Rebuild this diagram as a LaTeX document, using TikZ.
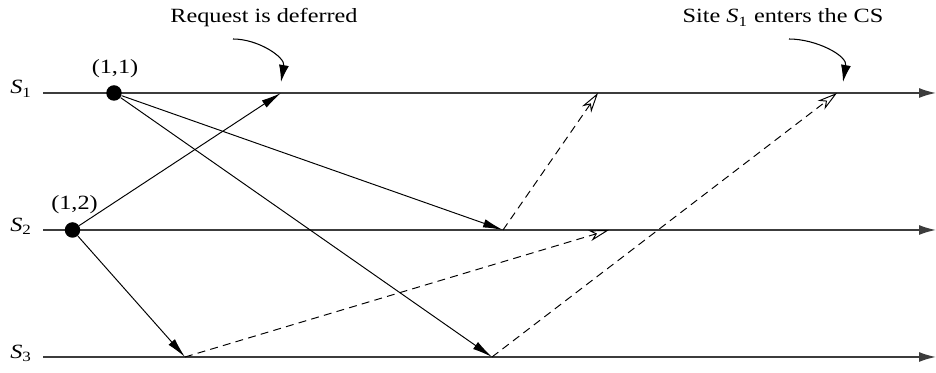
\documentclass[tikz,border=0pt]{standalone}
\usepackage{fontspec}
\setmainfont[FakeStretch=1.2]{Liberation Serif}
\usepackage{xcolor}
\definecolor{linea}{RGB}{60,60,60}
\usepackage{tikz}
\usetikzlibrary{arrows.meta, positioning}

\begin{document}
\begin{tikzpicture}[
  font=\fontsize{11.5}{13}\selectfont,
  site/.style={draw=linea, line width=0.9pt, -{Latex[length=0.34cm,width=0.2cm]}},
  lbl/.style={anchor=base west, inner sep=0pt},
  evt/.style={circle, fill=black, inner sep=0pt, minimum size=0.31cm},
  req/.style={line width=0.55pt, -{Latex[length=0.4cm,width=0.17cm]}},
  rep/.style={line width=0.55pt, dash pattern=on 4.5pt off 3pt, -{Stealth[open,length=0.4cm,width=0.22cm,inset=0.12cm]}},
  note/.style={line width=0.6pt, -{Latex[length=0.34cm,width=0.2cm]}}
]
  \useasboundingbox (0,0) rectangle (18.72,-7.46);

  \node[lbl] (s1) at (0.20,-1.88) {\textit{S}\textsubscript{1}};
  \node[lbl] (s2) at (0.20,-4.63) {\textit{S}\textsubscript{2}};
  \node[lbl] (s3) at (0.20,-7.17) {\textit{S}\textsubscript{3}};
  \coordinate (s1a) at (0.86,-1.86);
  \coordinate (s1b) at (18.72,-1.86);
  \coordinate (s2a) at (0.86,-4.60);
  \coordinate (s2b) at (18.72,-4.60);
  \coordinate (s3a) at (0.86,-7.14);
  \coordinate (s3b) at (18.72,-7.14);
  \draw[site] (s1a) -- (s1b);
  \draw[site] (s2a) -- (s2b);
  \draw[site] (s3a) -- (s3b);

  \node[evt] (p11) at (2.28,-1.86) {};
  \node[evt] (p12) at (1.45,-4.60) {};
  \node[anchor=base] (l11) at (2.30,-1.48) {(1,1)};
  \node[anchor=base] (l12) at (1.49,-4.20) {(1,2)};

  \coordinate (a1) at (5.62,-1.86);
  \coordinate (b2) at (10.06,-4.60);
  \coordinate (c3) at (9.84,-7.14);
  \coordinate (d3) at (3.70,-7.14);
  \coordinate (e2) at (12.18,-4.60);
  \coordinate (f1) at (11.96,-1.86);
  \coordinate (g1) at (16.74,-1.86);

  \draw[req] (p12) -- (a1);
  \draw[req] (p12) -- (d3);
  \draw[req] (p11) -- (b2);
  \draw[req] (p11) -- (c3);
  \draw[rep] (d3) -- (e2);
  \draw[rep] (b2) -- (f1);
  \draw[rep] (c3) -- (g1);

  \node[anchor=base] (n1) at (5.28,-0.46) {Request is deferred};
  \node[anchor=base] (n2) at (15.66,-0.46) {Site \textit{S}\textsubscript{1} enters the CS};
  \coordinate (n1s) at (4.66,-0.78);
  \coordinate (n1e) at (5.62,-1.64);
  \coordinate (n2s) at (15.78,-0.78);
  \coordinate (n2e) at (16.86,-1.64);
  \draw[note] (n1s) to[out=0,in=80] (n1e);
  \draw[note] (n2s) to[out=0,in=80] (n2e);
\end{tikzpicture}
\end{document}
